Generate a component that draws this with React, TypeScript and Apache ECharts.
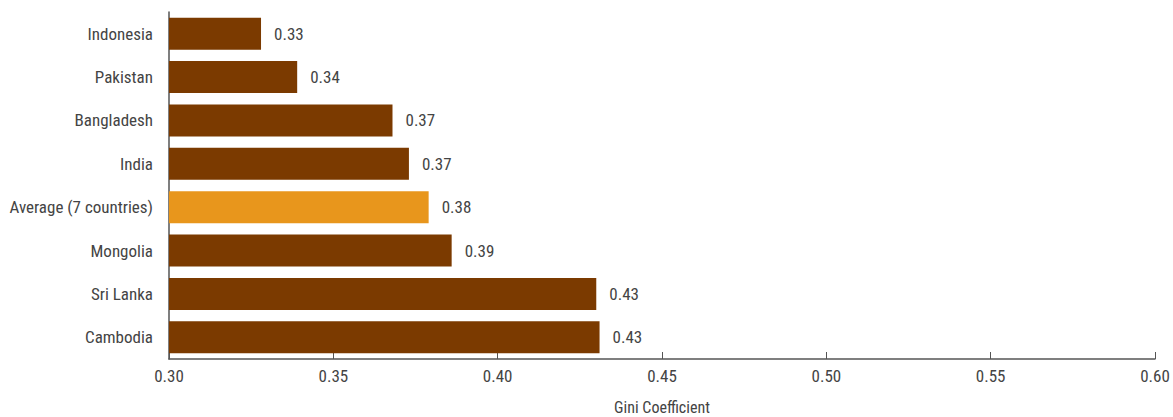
import React, { useEffect, useRef } from "react";
import * as echarts from "echarts";

const categories = [
  "Indonesia",
  "Pakistan",
  "Bangladesh",
  "India",
  "Average (7 countries)",
  "Mongolia",
  "Sri Lanka",
  "Cambodia",
];
const values = [0.328, 0.339, 0.368, 0.373, 0.379, 0.386, 0.43, 0.431];
const highlight = "Average (7 countries)";
const xTicks = { min: 0.3, max: 0.6, interval: 0.05 };

const FONT = "'Roboto Condensed', 'Liberation Sans Narrow', 'Roboto', sans-serif";
const TEXT = "#444";

export default function App() {
  const ref = useRef<HTMLDivElement>(null);
  useEffect(() => {
    document.body.style.margin = "0";
    const chart = echarts.init(ref.current!, undefined, { renderer: "svg" });
    chart.setOption({
      animation: false,
      textStyle: { fontFamily: FONT },
      grid: { left: 169, right: 18, top: 12, bottom: 58, containLabel: false, outerBoundsMode: "none" },
      xAxis: {
        type: "value",
        min: xTicks.min,
        max: xTicks.max,
        interval: xTicks.interval,
        name: "Gini Coefficient",
        nameLocation: "middle",
        nameGap: 40,
        nameTextStyle: { color: TEXT, fontSize: 16, fontFamily: FONT },
        axisLine: { show: true, lineStyle: { color: "#555", width: 1.5 } },
        axisTick: { show: true, inside: true, length: 7, lineStyle: { color: "#555" } },
        axisLabel: {
          color: TEXT,
          fontSize: 17,
          fontFamily: FONT,
          margin: 8,
          formatter: (v: number) => v.toFixed(2),
        },
        splitLine: { show: false },
      },
      yAxis: {
        type: "category",
        data: categories,
        inverse: true,
        axisLine: { show: true, lineStyle: { color: "#555", width: 1.5 } },
        axisTick: { show: false },
        axisLabel: { color: TEXT, fontSize: 17, fontFamily: FONT, margin: 16 },
      },
      series: [
        {
          type: "bar",
          barCategoryGap: "26%",
          data: values.map((v, i) => ({
            value: v,
            itemStyle: { color: categories[i] === highlight ? "#E8961C" : "#7B3A00" },
          })),
          label: {
            show: true,
            position: "right",
            distance: 13,
            color: TEXT,
            fontSize: 17,
            fontFamily: FONT,
            formatter: (p: any) => p.value.toFixed(2),
          },
        },
      ],
    });
    return () => chart.dispose();
  }, []);
  return <div ref={ref} style={{ width: 1173, height: 417 }} />;
}
